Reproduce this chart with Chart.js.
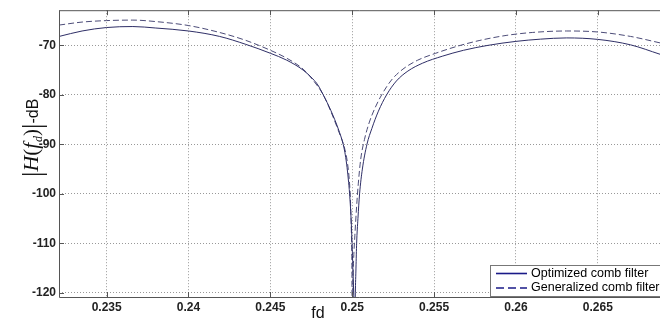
<!DOCTYPE html>
<html>
<head>
<meta charset="utf-8">
<script src="https://cdn.jsdelivr.net/npm/chart.js@4"></script>
<style>
  html, body { margin: 0; padding: 0; background: #fff; }
  #wrap { width: 660px; height: 323px; }
</style>
</head>
<body>
<div id="wrap"><canvas id="myChart" width="660" height="323"></canvas></div>
<script>
  // optimized comb filter (solid)
  const fdOpt = [0.2321, 0.2335, 0.235, 0.2366, 0.238, 0.24, 0.2419, 0.2435, 0.245, 0.246,
    0.247, 0.2476, 0.2479, 0.24823, 0.2487, 0.24915, 0.24945, 0.24955, 0.24966, 0.24976,
    0.24984, 0.24993, 0.24999, 0.25004, 0.25009, 0.25015, 0.25019, 0.25023, 0.25027, 0.25035,
    0.25045, 0.25062, 0.2509, 0.2512, 0.2516, 0.2521, 0.2527, 0.2534, 0.2543, 0.2555,
    0.2568, 0.2583, 0.26, 0.2615, 0.2631, 0.265, 0.267, 0.2688];
  const hOpt = [-68.2, -67.1, -66.4, -66.2, -66.5, -67.1, -68.2, -69.8, -71.6, -73.0,
    -75.0, -76.8, -78.0, -80, -83.2, -86.9, -90, -91.6, -94, -97,
    -100, -105, -110, -115, -120, -128, -120, -115, -110, -105,
    -100, -95, -90, -86.8, -83.3, -80, -77.2, -75.2, -73.6, -72.2,
    -71.0, -70.0, -69.2, -68.75, -68.5, -68.8, -69.9, -71.8];

  // generalized comb filter (dashed)
  const fdGen = [0.2321, 0.2335, 0.235, 0.2366, 0.238, 0.24, 0.2419, 0.2435, 0.245, 0.246,
    0.247, 0.2476, 0.24823, 0.2487, 0.24915, 0.24955, 0.24972, 0.24984, 0.2499, 0.24995,
    0.24998, 0.25, 0.25004, 0.25009, 0.25016, 0.25027, 0.25037, 0.25052, 0.25075, 0.25105,
    0.2514, 0.2518, 0.2524, 0.2531, 0.254, 0.2551, 0.2564, 0.2578, 0.2594, 0.261,
    0.2631, 0.265, 0.267, 0.2688];
  const hGen = [-65.9, -65.3, -65.0, -64.9, -65.2, -66.0, -67.4, -69.0, -71.0, -72.6,
    -74.8, -77.0, -80, -83.4, -87.2, -91, -94, -98, -102, -108,
    -115, -128, -118, -113, -108.5, -102.5, -98, -93, -89, -85.5,
    -82.6, -80, -77.0, -74.8, -73.0, -71.6, -70.2, -69.0, -68.0, -67.4,
    -67.1, -67.3, -68.2, -69.5];

  const xTicks = [0.235, 0.24, 0.245, 0.25, 0.255, 0.26, 0.265];
  const yTicks = [-120, -110, -100, -90, -80, -70];

  const lineColor = '#2e2e66';
  const dashColor = '#4c4c78';
  const legendColor = '#1a1a88';
  const frameColor = '#555';

  // box, inward ticks, axis titles and legend, drawn like the matlab figure
  const figurePlugin = {
    id: 'figure',
    afterDatasetsDraw(chart) {
      const { ctx, chartArea: a, scales } = chart;
      ctx.save();
      ctx.strokeStyle = frameColor;
      ctx.lineWidth = 1;
      ctx.beginPath();
      ctx.moveTo(a.left + 0.5, a.top + 0.5);
      ctx.lineTo(a.right, a.top + 0.5);
      ctx.moveTo(a.left + 0.5, a.top);
      ctx.lineTo(a.left + 0.5, a.bottom + 0.5);
      ctx.lineTo(a.right, a.bottom + 0.5);
      xTicks.forEach(v => {
        const px = Math.round(scales.x.getPixelForValue(v)) + 0.5;
        ctx.moveTo(px, a.bottom);
        ctx.lineTo(px, a.bottom - 5);
        ctx.moveTo(px, a.top);
        ctx.lineTo(px, a.top + 5);
      });
      yTicks.forEach(v => {
        const py = Math.round(scales.y.getPixelForValue(v)) + 0.5;
        ctx.moveTo(a.left, py);
        ctx.lineTo(a.left + 5, py);
      });
      ctx.stroke();
      ctx.restore();
    },
    afterDraw(chart) {
      const { ctx } = chart;
      ctx.save();
      ctx.fillStyle = '#111';

      // x title
      ctx.font = '16px "Liberation Sans"';
      ctx.textAlign = 'center';
      ctx.textBaseline = 'alphabetic';
      ctx.fillText('fd', 318, 318);

      // y title |H(f_d)|-dB, rotated
      ctx.translate(38, 177);
      ctx.rotate(-Math.PI / 2);
      ctx.textAlign = 'left';
      const parts = [
        ['|', '27px "Liberation Serif"', 3],
        ['H', 'italic 22px "Liberation Serif"', 0],
        ['(', '21px "Liberation Serif"', 0],
        ['f', 'italic 21px "Liberation Serif"', 0],
        ['d', 'italic 12px "Liberation Serif"', 4],
        [')', '21px "Liberation Serif"', 0],
        ['|', '27px "Liberation Serif"', 3],
        ['-dB', '16px "Liberation Sans"', 0]
      ];
      let u = 0;
      parts.forEach(([t, f, dv]) => {
        ctx.font = f;
        ctx.fillText(t, u, dv);
        u += ctx.measureText(t).width + (t === 'f' ? 1 : 0);
      });
      ctx.setTransform(1, 0, 0, 1, 0, 0);

      // legend
      const bx = 490, by = 265, bw = 175, bh = 31;
      ctx.fillStyle = '#fff';
      ctx.fillRect(bx, by, bw, bh);
      ctx.strokeStyle = '#777';
      ctx.lineWidth = 1;
      ctx.strokeRect(bx + 0.5, by + 0.5, bw, bh);
      ctx.font = '12.5px "Liberation Sans"';
      ctx.textBaseline = 'middle';
      chart.data.datasets.forEach((ds, i) => {
        const ry = 273.5 + i * 14.5;
        ctx.strokeStyle = legendColor;
        ctx.lineWidth = 1.6;
        ctx.setLineDash(ds.borderDash ? [8, 4] : []);
        ctx.beginPath();
        ctx.moveTo(496, ry);
        ctx.lineTo(527, ry);
        ctx.stroke();
        ctx.setLineDash([]);
        ctx.fillStyle = '#000';
        ctx.fillText(ds.label, 531, ry);
      });
      ctx.restore();
    }
  };

  const ctx = document.getElementById('myChart').getContext('2d');

  const myChart = new Chart(ctx, {
    type: 'line',
    data: {
      datasets: [
        {
          label: 'Optimized comb filter',
          data: fdOpt.map((x, i) => ({ x: x, y: hOpt[i] })),
          borderColor: lineColor,
          borderWidth: 1,
          pointRadius: 0,
          cubicInterpolationMode: 'monotone',
          fill: false
        },
        {
          label: 'Generalized comb filter',
          data: fdGen.map((x, i) => ({ x: x, y: hGen[i] })),
          borderColor: dashColor,
          borderWidth: 1,
          borderDash: [6, 3],
          pointRadius: 0,
          cubicInterpolationMode: 'monotone',
          fill: false
        }
      ]
    },
    options: {
      responsive: false,
      animation: false,
      layout: { padding: { top: 5, right: 0, left: 0, bottom: 0 } },
      plugins: {
        legend: { display: false },
        tooltip: { enabled: false }
      },
      scales: {
        x: {
          type: 'linear',
          min: 0.23209,
          max: 0.2688,
          afterBuildTicks: s => { s.ticks = xTicks.map(v => ({ value: v })); },
          afterFit: s => { s.height = 26; },
          grid: { color: 'rgba(110,110,110,0.7)', drawTicks: false },
          border: { display: false, dash: [1, 2] },
          ticks: {
            padding: 3,
            color: '#222',
            font: { family: 'Liberation Sans', size: 12, weight: 'bold' },
            maxRotation: 0,
            callback: v => String(+v.toFixed(3))
          }
        },
        y: {
          min: -120.85,
          max: -62.9,
          afterBuildTicks: s => { s.ticks = yTicks.map(v => ({ value: v })); },
          afterFit: s => { s.width = 59; },
          grid: { color: 'rgba(110,110,110,0.7)', drawTicks: false },
          border: { display: false, dash: [1, 2] },
          ticks: {
            padding: 3,
            color: '#222',
            font: { family: 'Liberation Sans', size: 12, weight: 'bold' }
          }
        }
      }
    },
    plugins: [figurePlugin]
  });
</script>
</body>
</html>
